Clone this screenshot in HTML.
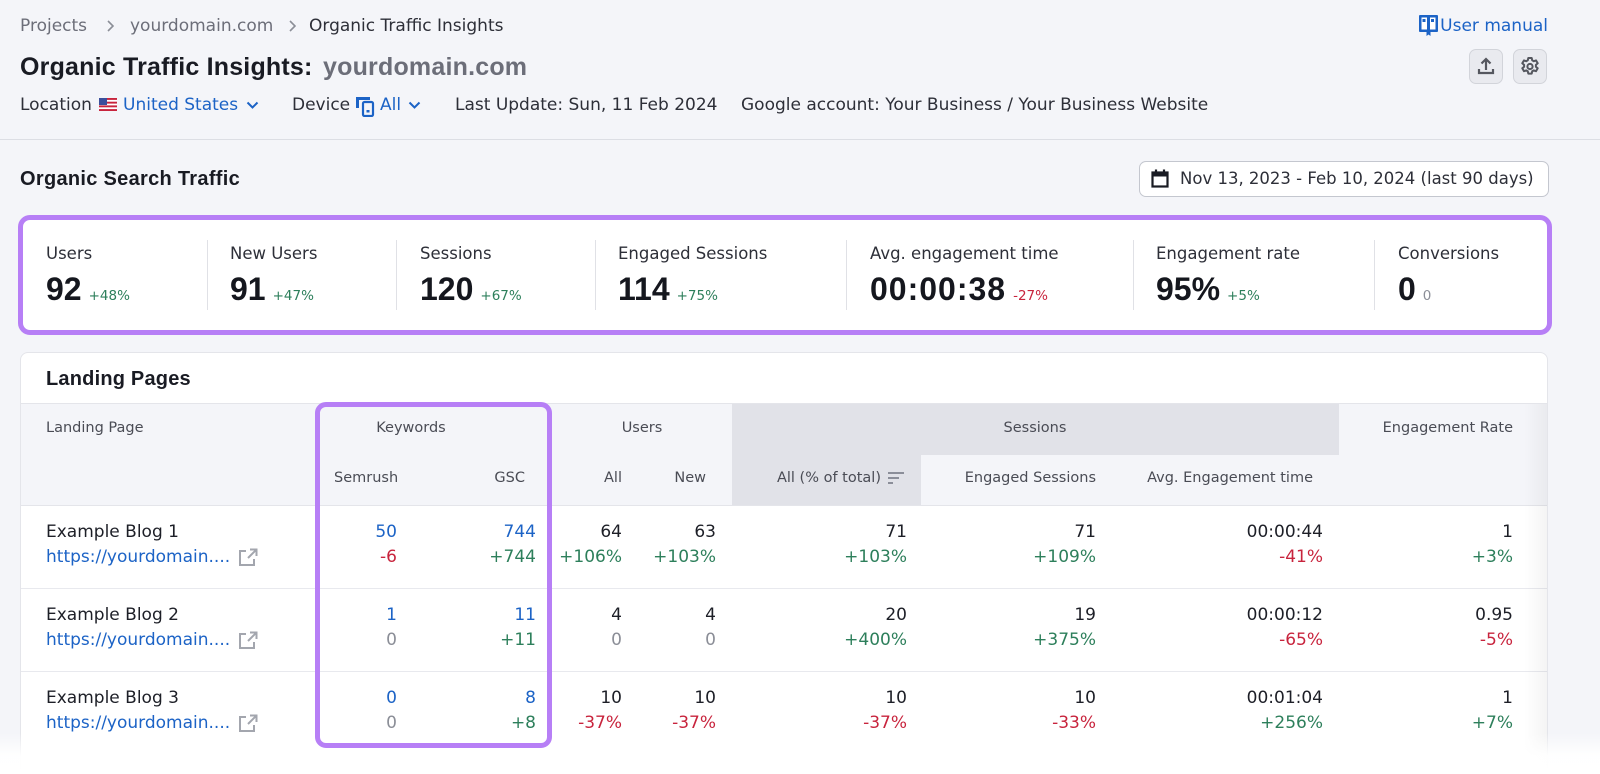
<!DOCTYPE html>
<html><head><meta charset="utf-8">
<style>
*{margin:0;padding:0;box-sizing:border-box}
html,body{width:1600px;height:774px;overflow:hidden;background:#f4f5f9;font-family:"DejaVu Sans","Liberation Sans",sans-serif;color:#1d1f27;position:relative}
.a{position:absolute;white-space:nowrap}
.t{font-size:17px;line-height:20px}
.h{font-size:14.5px;line-height:20px;color:#4a4c55}
.b{font-family:"Liberation Sans",sans-serif;font-weight:bold}
.blue{color:#1c63c6}.green{color:#2d7f5b}.red{color:#c8243d}.gray{color:#8b8e97}.mut{color:#6c6e79}
.lbl{font-size:16.5px;line-height:20px;color:#2d2f38;top:244px}
.val{top:271px;height:36px;display:flex;align-items:baseline}
.val .n{font-family:"Liberation Sans",sans-serif;font-weight:bold;font-size:32px;line-height:36px;color:#15171e}
.val .d{font-size:13.5px;margin-left:7px}
.dv{position:absolute;top:240px;width:1px;height:70px;background:#e0e1e6}
.sep{position:absolute;left:21px;width:1526px;height:1px;background:#e8e9ee}
</style></head><body>

<!-- breadcrumb -->
<div class="a t mut" style="left:20px;top:16px">Projects</div>
<svg class="a" style="left:106px;top:20px" width="8" height="12" viewBox="0 0 8 12"><path d="M2 1l5 5-5 5" fill="none" stroke="#8b8e97" stroke-width="1.6"/></svg>
<div class="a t mut" style="left:130px;top:16px">yourdomain.com</div>
<svg class="a" style="left:288px;top:20px" width="8" height="12" viewBox="0 0 8 12"><path d="M2 1l5 5-5 5" fill="none" stroke="#8b8e97" stroke-width="1.6"/></svg>
<div class="a t" style="left:309px;top:16px;color:#2d2f38">Organic Traffic Insights</div>

<!-- user manual -->
<svg class="a" style="left:1419px;top:15px" width="19" height="22" viewBox="0 0 19 22">
<rect x="0" y="0" width="19" height="17" rx="1" fill="#1c63c6"/>
<rect x="2.5" y="2.5" width="5.5" height="12" fill="#fff"/>
<rect x="11" y="2.5" width="5.5" height="12" fill="#fff"/>
<rect x="3.5" y="4" width="3" height="3" fill="#1c63c6"/>
<rect x="12" y="4" width="3" height="3" fill="#1c63c6"/>
<path d="M7.5 17h4v4l-2-1.5-2 1.5z" fill="#1c63c6"/>
</svg>
<div class="a t blue" style="right:52px;top:16px">User manual</div>

<!-- buttons -->
<div class="a" style="left:1469px;top:49px;width:34px;height:35px;background:#e9eaef;border:1px solid #d2d4da;border-radius:7px"></div>
<svg class="a" style="left:1476px;top:56px" width="20" height="20" viewBox="0 0 20 20"><path d="M10 14V3M5.5 7.5L10 3l4.5 4.5M3 13v4h14v-4" fill="none" stroke="#55575f" stroke-width="2.2"/></svg>
<div class="a" style="left:1513px;top:49px;width:34px;height:35px;background:#e9eaef;border:1px solid #d2d4da;border-radius:7px"></div>
<svg class="a" style="left:1520px;top:56px" width="20" height="21" viewBox="0 0 20 20">
<g fill="none" stroke="#55575f" stroke-width="2">
<path d="M8.3 1.5h3.4l.5 2.3 1.6.9 2.2-.8 1.7 2.9-1.8 1.6v1.8l1.8 1.6-1.7 2.9-2.2-.8-1.6.9-.5 2.3H8.3l-.5-2.3-1.6-.9-2.2.8-1.7-2.9 1.8-1.6V8.4L2.3 6.8 4 3.9l2.2.8 1.6-.9z" stroke-linejoin="round"/>
<circle cx="10" cy="10" r="2.6"/></g></svg>

<!-- title -->
<div class="a b" style="left:20px;top:52px;font-size:25px;line-height:30px;letter-spacing:.2px;color:#191b23">Organic Traffic Insights:</div>
<div class="a b mut" style="left:323px;top:52px;font-size:25px;line-height:30px;letter-spacing:.2px">yourdomain.com</div>

<!-- meta row -->
<div class="a t" style="left:20px;top:95px;color:#2d2f38">Location</div>
<svg class="a" style="left:99px;top:98px" width="18" height="13" viewBox="0 0 18 13">
<rect width="18" height="13" fill="#fff"/>
<g fill="#c8243d"><rect y="0" width="18" height="1.9"/><rect y="3.7" width="18" height="1.9"/><rect y="7.4" width="18" height="1.9"/><rect y="11.1" width="18" height="1.9"/></g>
<rect width="8" height="7" fill="#3b4f9c"/></svg>
<div class="a t blue" style="left:123px;top:95px">United States</div>
<svg class="a" style="left:246px;top:101px" width="13" height="9" viewBox="0 0 13 9"><path d="M1.5 1.5l5 5 5-5" fill="none" stroke="#1c63c6" stroke-width="2"/></svg>
<div class="a t" style="left:292px;top:95px;color:#2d2f38">Device</div>
<svg class="a" style="left:354px;top:95px" width="22" height="22" viewBox="0 0 22 22">
<path d="M2 2h14v3H5v8H2z" fill="#1c63c6"/><rect x="9" y="7" width="10" height="14" rx="1.5" fill="none" stroke="#1c63c6" stroke-width="2.2"/><rect x="12.5" y="15" width="3" height="2.5" fill="#1c63c6"/></svg>
<div class="a t blue" style="left:380px;top:95px">All</div>
<svg class="a" style="left:408px;top:101px" width="13" height="9" viewBox="0 0 13 9"><path d="M1.5 1.5l5 5 5-5" fill="none" stroke="#1c63c6" stroke-width="2"/></svg>
<div class="a t" style="left:455px;top:95px;color:#2d2f38">Last Update: Sun, 11 Feb 2024</div>
<div class="a t" style="left:741px;top:95px;color:#2d2f38">Google account: Your Business / Your Business Website</div>

<div class="a" style="left:0;top:139px;width:1600px;height:1px;background:#dcdee4"></div>

<!-- Organic Search Traffic -->
<div class="a b" style="left:20px;top:167px;font-size:20px;line-height:24px;letter-spacing:.3px;color:#191b23">Organic Search Traffic</div>
<div class="a" style="left:1139px;top:161px;width:410px;height:36px;background:#fff;border:1px solid #c4c7cf;border-radius:7px"></div>
<svg class="a" style="left:1151px;top:169px" width="18" height="19" viewBox="0 0 18 19">
<g fill="none" stroke="#191b23" stroke-width="2.2"><rect x="1.5" y="3.5" width="15" height="14"/><path d="M5 0.5v4M13 0.5v4"/></g><rect x="1.5" y="3.5" width="15" height="4" fill="#191b23"/></svg>
<div class="a" style="left:1180px;top:169px;font-size:16.5px;line-height:20px;color:#2d2f38">Nov 13, 2023 - Feb 10, 2024 (last 90 days)</div>

<!-- metrics box -->
<div class="a" style="left:18px;top:215px;width:1534px;height:120px;background:#fff;border:5px solid #b77ff6;border-radius:12px"></div>
<div class="dv" style="left:207px"></div><div class="dv" style="left:396px"></div><div class="dv" style="left:595px"></div>
<div class="dv" style="left:846px"></div><div class="dv" style="left:1133px"></div><div class="dv" style="left:1374px"></div>

<div class="a lbl" style="left:46px">Users</div>
<div class="a val" style="left:46px"><span class="n">92</span><span class="d green">+48%</span></div>
<div class="a lbl" style="left:230px">New Users</div>
<div class="a val" style="left:230px"><span class="n">91</span><span class="d green">+47%</span></div>
<div class="a lbl" style="left:420px">Sessions</div>
<div class="a val" style="left:420px"><span class="n">120</span><span class="d green">+67%</span></div>
<div class="a lbl" style="left:618px">Engaged Sessions</div>
<div class="a val" style="left:618px"><span class="n">114</span><span class="d green">+75%</span></div>
<div class="a lbl" style="left:870px">Avg. engagement time</div>
<div class="a val" style="left:870px"><span class="n" style="letter-spacing:1px">00:00:38</span><span class="d red">-27%</span></div>
<div class="a lbl" style="left:1156px">Engagement rate</div>
<div class="a val" style="left:1156px"><span class="n">95%</span><span class="d green">+5%</span></div>
<div class="a lbl" style="left:1398px">Conversions</div>
<div class="a val" style="left:1398px"><span class="n">0</span><span class="d gray">0</span></div>

<!-- landing pages card -->
<div class="a" style="left:20px;top:352px;width:1528px;height:460px;background:#fff;border:1px solid #e4e5ea;border-radius:8px"></div>
<div class="a b" style="left:46px;top:367px;font-size:20px;line-height:24px;letter-spacing:.2px;color:#191b23">Landing Pages</div>
<div class="a" style="left:21px;top:403px;width:1526px;height:103px;background:#f4f5f9;border-top:1px solid #e4e5ea;border-bottom:1px solid #e4e5ea"></div>
<div class="a" style="left:732px;top:404px;width:607px;height:51px;background:#e1e2e8"></div>
<div class="a" style="left:732px;top:455px;width:189px;height:50px;background:#e1e2e8"></div>

<div class="a h" style="left:46px;top:418px">Landing Page</div>
<div class="a h" style="left:311px;top:418px;width:200px;text-align:center">Keywords</div>
<div class="a h" style="left:542px;top:418px;width:200px;text-align:center">Users</div>
<div class="a h" style="left:935px;top:418px;width:200px;text-align:center">Sessions</div>
<div class="a h" style="right:87px;top:418px">Engagement Rate</div>

<div class="a h" style="left:334px;top:468px">Semrush</div>
<div class="a h" style="right:1075px;top:468px">GSC</div>
<div class="a h" style="right:978px;top:468px">All</div>
<div class="a h" style="right:894px;top:468px">New</div>
<div class="a h" style="right:719px;top:468px">All (% of total)</div>
<svg class="a" style="left:888px;top:471px" width="17" height="14" viewBox="0 0 17 14"><g fill="#8b8e99"><rect x="0" y="1" width="16" height="2"/><rect x="0" y="6" width="11" height="2"/><rect x="0" y="11" width="5" height="2"/></g></svg>
<div class="a h" style="right:504px;top:468px">Engaged Sessions</div>
<div class="a h" style="right:287px;top:468px">Avg. Engagement time</div>

<div class="sep" style="top:588px"></div>
<div class="sep" style="top:671px"></div>

<!-- row 1 -->
<div class="a t" style="left:46px;top:522px">Example Blog 1</div>
<div class="a t blue" style="left:46px;top:547px">https://yourdomain....</div>
<svg class="a" style="left:238px;top:548px" width="20" height="19" viewBox="0 0 20 19"><g fill="none" stroke="#a3a6ae" stroke-width="2"><path d="M8 3H2v14h14v-6"/><path d="M10 10L18 2M12 1.5h6.5V8"/></g></svg>
<div class="a t blue" style="right:1203px;top:522px">50</div><div class="a t red" style="right:1203px;top:547px">-6</div>
<div class="a t blue" style="right:1064px;top:522px">744</div><div class="a t green" style="right:1064px;top:547px">+744</div>
<div class="a t" style="right:978px;top:522px">64</div><div class="a t green" style="right:978px;top:547px">+106%</div>
<div class="a t" style="right:884px;top:522px">63</div><div class="a t green" style="right:884px;top:547px">+103%</div>
<div class="a t" style="right:693px;top:522px">71</div><div class="a t green" style="right:693px;top:547px">+103%</div>
<div class="a t" style="right:504px;top:522px">71</div><div class="a t green" style="right:504px;top:547px">+109%</div>
<div class="a t" style="right:277px;top:522px">00:00:44</div><div class="a t red" style="right:277px;top:547px">-41%</div>
<div class="a t" style="right:87px;top:522px">1</div><div class="a t green" style="right:87px;top:547px">+3%</div>

<!-- row 2 -->
<div class="a t" style="left:46px;top:605px">Example Blog 2</div>
<div class="a t blue" style="left:46px;top:630px">https://yourdomain....</div>
<svg class="a" style="left:238px;top:631px" width="20" height="19" viewBox="0 0 20 19"><g fill="none" stroke="#a3a6ae" stroke-width="2"><path d="M8 3H2v14h14v-6"/><path d="M10 10L18 2M12 1.5h6.5V8"/></g></svg>
<div class="a t blue" style="right:1203px;top:605px">1</div><div class="a t gray" style="right:1203px;top:630px">0</div>
<div class="a t blue" style="right:1064px;top:605px">11</div><div class="a t green" style="right:1064px;top:630px">+11</div>
<div class="a t" style="right:978px;top:605px">4</div><div class="a t gray" style="right:978px;top:630px">0</div>
<div class="a t" style="right:884px;top:605px">4</div><div class="a t gray" style="right:884px;top:630px">0</div>
<div class="a t" style="right:693px;top:605px">20</div><div class="a t green" style="right:693px;top:630px">+400%</div>
<div class="a t" style="right:504px;top:605px">19</div><div class="a t green" style="right:504px;top:630px">+375%</div>
<div class="a t" style="right:277px;top:605px">00:00:12</div><div class="a t red" style="right:277px;top:630px">-65%</div>
<div class="a t" style="right:87px;top:605px">0.95</div><div class="a t red" style="right:87px;top:630px">-5%</div>

<!-- row 3 -->
<div class="a t" style="left:46px;top:688px">Example Blog 3</div>
<div class="a t blue" style="left:46px;top:713px">https://yourdomain....</div>
<svg class="a" style="left:238px;top:714px" width="20" height="19" viewBox="0 0 20 19"><g fill="none" stroke="#a3a6ae" stroke-width="2"><path d="M8 3H2v14h14v-6"/><path d="M10 10L18 2M12 1.5h6.5V8"/></g></svg>
<div class="a t blue" style="right:1203px;top:688px">0</div><div class="a t gray" style="right:1203px;top:713px">0</div>
<div class="a t blue" style="right:1064px;top:688px">8</div><div class="a t green" style="right:1064px;top:713px">+8</div>
<div class="a t" style="right:978px;top:688px">10</div><div class="a t red" style="right:978px;top:713px">-37%</div>
<div class="a t" style="right:884px;top:688px">10</div><div class="a t red" style="right:884px;top:713px">-37%</div>
<div class="a t" style="right:693px;top:688px">10</div><div class="a t red" style="right:693px;top:713px">-37%</div>
<div class="a t" style="right:504px;top:688px">10</div><div class="a t red" style="right:504px;top:713px">-33%</div>
<div class="a t" style="right:277px;top:688px">00:01:04</div><div class="a t green" style="right:277px;top:713px">+256%</div>
<div class="a t" style="right:87px;top:688px">1</div><div class="a t green" style="right:87px;top:713px">+7%</div>

<!-- right scroll shadow -->
<div class="a" style="left:1524px;top:404px;width:23px;height:380px;background:linear-gradient(to right,rgba(0,0,0,0),rgba(0,0,0,0.045))"></div>

<!-- bottom fade -->
<div class="a" style="left:0;top:733px;width:1600px;height:41px;background:linear-gradient(to bottom,rgba(255,255,255,0),rgba(255,255,255,0.95) 55%,#fff)"></div>

<!-- keywords highlight -->
<div class="a" style="left:315px;top:402px;width:237px;height:346px;border:5px solid #b77ff6;border-radius:11px"></div>

</body></html>
